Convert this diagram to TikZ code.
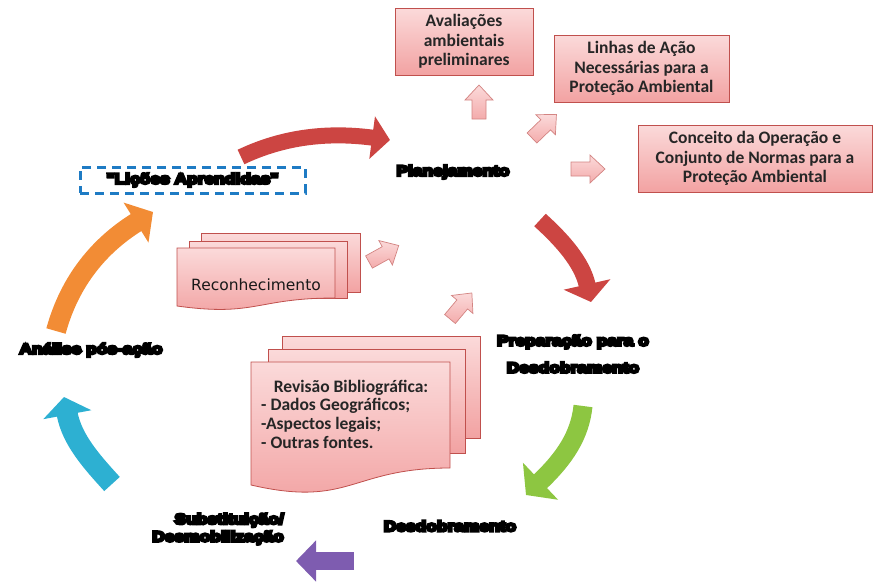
\documentclass[tikz,border=0pt]{standalone}
\usepackage{fontspec}
\setmainfont{Carlito}
\newfontfamily\heavy{Liberation Sans Bold}[FakeBold=18,FakeStretch=1.2]
\newfontfamily\dejavu{DejaVu Sans}
\usetikzlibrary{arrows.meta}
\definecolor{pinkT}{HTML}{FBDADA}
\definecolor{pinkB}{HTML}{F2A2A2}
\definecolor{pinkE}{HTML}{C0504D}
\definecolor{arrRed}{HTML}{CC4542}
\definecolor{arrGreen}{HTML}{8DC641}
\definecolor{arrPurple}{HTML}{7E5CB0}
\definecolor{arrCyan}{HTML}{2DB0D2}
\definecolor{arrOrange}{HTML}{F28C35}
\definecolor{dashBlue}{HTML}{1E7BC4}
\tikzset{
  x=1pt,y=-1pt,
  pinkbox/.style={draw=pinkE,line width=0.8pt,top color=pinkT,bottom color=pinkB,
    align=center,inner sep=2pt,font=\bfseries\fontsize{17.5}{19.5}\selectfont,text=black!85},
  docfill/.style={draw=pinkE,line width=0.8pt,top color=pinkT,bottom color=pinkB},
  doctext/.style={font=\bfseries\fontsize{17.5}{19}\selectfont,text=black!85,inner sep=0pt},
  pinkarrow/.style={draw=pinkE!70,line width=0.7pt,top color=pinkT,bottom color=pinkB!90},
  stage/.style={font=\heavy\fontsize{14.5}{27}\selectfont,align=center,inner sep=0pt},
  parrow/.pic={\path[pinkarrow] (0,-7) -- (19,-7) -- (19,-14) -- (34,0) -- (19,14) -- (19,7) -- (0,7) -- cycle;}
}
\begin{document}
\begin{tikzpicture}
\useasboundingbox (0,0) rectangle (873,587);
% boxes
\node[pinkbox,minimum width=138pt,minimum height=67pt] (b1) at (464,41.5) {Avaliações\\ambientais\\preliminares};
\node[pinkbox,minimum width=175pt,minimum height=67pt] (b2) at (641.5,68.5) {Linhas de Ação\\Necessárias para a\\Proteção Ambiental};
\node[pinkbox,minimum width=234pt,minimum height=67pt] (b3) at (755,158.5) {Conceito da Operação e\\Conjunto de Normas para a\\Proteção Ambiental};
% small pink arrows
\pic[rotate=90] at (479,119) {parrow};
\pic[rotate=44] at (532,138) {parrow};
\pic[rotate=0] at (571,169) {parrow};
\pic[rotate=29] at (369,262) {parrow};
\pic[rotate=50] at (450,319) {parrow};
% Reconhecimento stack
\path[docfill] (201,233) rectangle (360,292);
\path[docfill] (189,241) rectangle (347,298);
\path[docfill] (177,248) -- (335,248) -- (335,298) .. controls (256,298) and (256,317) .. (177,306) -- cycle;
\node[font=\dejavu\fontsize{15.5}{17}\selectfont,text=black!90] (rec) at (256,285) {Reconhecimento};
% Revisao stack
\path[docfill] (282,336) rectangle (480,438);
\path[docfill] (268,349) rectangle (465,453);
\path[docfill] (251,362) -- (450,362) -- (450,468) .. controls (350.5,468) and (350.5,508) .. (251,485) -- cycle;
\node[doctext] (rev1) at (351,388) {Revisão Bibliográfica:};
\node[doctext,align=left,anchor=north west] (rev2) at (261,398) {- Dados Geográficos;\\-Aspectos legais;\\- Outras fontes.};
% stage labels
\node[stage] (plan) at (453,172) {Planejamento};
\node[stage] (prep) at (573,354) {Preparação para o\\Desdobramento};
\node[stage] (desd) at (450,526) {Desdobramento};
\node[stage,font=\heavy\fontsize{14.5}{17.5}\selectfont,align=right,anchor=east] (subs) at (284,529) {Substituição/\\Desmobilização};
\node[stage] (anal) at (91,350) {Análise pós-ação};
\node[stage,draw=dashBlue,line width=3pt,dash pattern=on 9pt off 6pt,minimum width=225pt,minimum height=26pt] (lic) at (192.5,180) {"Lições Aprendidas"};
% big cycle arrows
\coordinate (r1s) at (241,157);
\coordinate (r1e) at (390,140);
\coordinate (r2s) at (540,220);
\coordinate (r2e) at (591,302);
\coordinate (gs) at (583,406);
\coordinate (ge) at (526,495);
\coordinate (ps) at (354,561);
\coordinate (pe) at (296,561);
\coordinate (cs) at (112,484);
\coordinate (ce) at (64,397);
\coordinate (os) at (56,331);
\coordinate (oe) at (153,212);
\draw[arrRed,line width=16pt,-{Triangle[length=18pt 0 0,width=42pt 0 0]}] (r1s) .. controls (285,136) and (330,132) .. (r1e);
\draw[arrRed,line width=17pt,-{Triangle[length=18pt 0 0,width=47pt 0 0]}] (r2s) .. controls (562,240) and (582,262) .. (r2e);
\draw[arrGreen,line width=19pt,-{Triangle[length=20pt 0 0,width=50pt 0 0]}] (gs) .. controls (580,435) and (565,458) .. (ge);
\draw[arrPurple,line width=18pt,-{Triangle[length=20pt 0 0,width=40pt 0 0]}] (ps) -- (pe);
\draw[arrCyan,line width=21pt,-{Triangle[length=18pt 0 0,width=48pt 0 0]}] (cs) .. controls (92,462) and (72,440) .. (ce);
\draw[arrOrange,line width=20pt,-{Triangle[length=20pt 0 0,width=46pt 0 0]}] (os) .. controls (70,280) and (100,245) .. (oe);
\end{tikzpicture}
\end{document}
